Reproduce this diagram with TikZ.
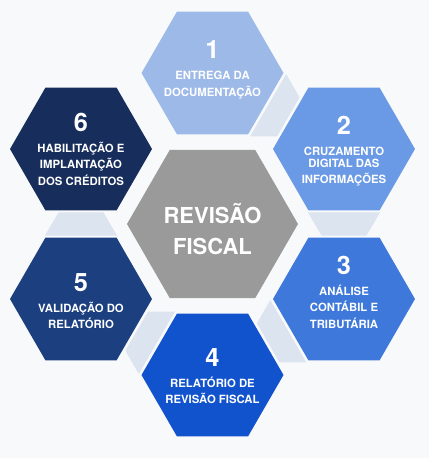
\documentclass[tikz,border=0pt]{standalone}
\usepackage{fontspec}
\setmainfont{TeX Gyre Heros}
\usetikzlibrary{shapes.geometric, calc}

\definecolor{bgcol}{HTML}{F8F9FA}
\definecolor{linkcol}{HTML}{DCE4F0}
\definecolor{corecol}{HTML}{9A9A9A}
\definecolor{stepA}{HTML}{9DB9E8}
\definecolor{stepB}{HTML}{6A9AE6}
\definecolor{stepC}{HTML}{3D78DA}
\definecolor{stepD}{HTML}{1153CC}
\definecolor{stepE}{HTML}{1C3F80}
\definecolor{stepF}{HTML}{172D5B}

\newcommand{\numfont}{\fontsize{19}{19}\selectfont\bfseries}

\begin{document}
\begin{tikzpicture}[
    x=0.75pt, y=-0.75pt,
    hexa/.style={regular polygon, regular polygon sides=6, inner sep=0pt, minimum size=106.5pt},
    core/.style={hexa, minimum size=128.25pt, fill=corecol},
    txt/.style={text=white, align=center, inner sep=0pt, font=\fontsize{8.5}{12.4}\selectfont\bfseries},
    coretxt/.style={text=white, align=center, inner sep=0pt, font=\fontsize{16.5}{23.25}\selectfont\bfseries},
    link/.style={fill=linkcol}
]

% background
\fill[bgcol] (0,0) rectangle (429,458);
\useasboundingbox (0,0) rectangle (429,458);

% ============ HEXAGONS ============
\node[core] (core) at (212.5,224) {};
\node[hexa, fill=stepA] (h1) at (212.5,73) {};
\node[hexa, fill=stepB] (h2) at (344,149) {};
\node[hexa, fill=stepC] (h3) at (344,299) {};
\node[hexa, fill=stepD] (h4) at (212.5,375) {};
\node[hexa, fill=stepE] (h5) at (81,299) {};
\node[hexa, fill=stepF] (h6) at (81,149) {};

% ============ LINKS (1 to 6) ============
\foreach \a/\b in {1/2, 2/3, 3/4, 4/5, 5/6} {
    \coordinate (near) at ($(h\a)!0.4233!(h\b)$);
    \coordinate (far) at ($(h\a)!0.5767!(h\b)$);
    \fill[link] ($(near)!27pt!90:(h\b)$) -- ($(near)!27pt!-90:(h\b)$)
        -- ($(far)!16.9pt!-90:(h\b)$) -- ($(far)!16.9pt!90:(h\b)$) -- cycle;
}

% ============ TEXTS ============
\node[coretxt] (tcore) at ($(core)+(0,5.5)$) {REVISÃO\\FISCAL};

\node[txt] (t1) at ($(h1)+(0,-3)$) {{\numfont 1}\\[3.4pt]ENTREGA DA\\DOCUMENTAÇÃO};
\node[txt] (t2) at ($(h2)+(0,2)$) {{\numfont 2}\\[3.4pt]CRUZAMENTO\\[-3.6pt]DIGITAL DAS\\INFORMAÇÕES};
\node[txt] (t3) at ($(h3)+(0,-7)$) {{\numfont 3}\\[3.4pt]ANÁLISE\\CONTÁBIL E\\TRIBUTÁRIA};
\node[txt] (t4) at ($(h4)+(0,1)$) {{\numfont 4}\\[3.4pt]RELATÓRIO DE\\REVISÃO FISCAL};
\node[txt] (t5) at ($(h5)+(0,2)$) {{\numfont 5}\\[3.4pt]VALIDAÇÃO DO\\RELATÓRIO};
\node[txt] (t6) at ($(h6)+(0,0)$) {{\numfont 6}\\[3.4pt]HABILITAÇÃO E\\IMPLANTAÇÃO\\DOS CRÉDITOS};

\end{tikzpicture}
\end{document}
